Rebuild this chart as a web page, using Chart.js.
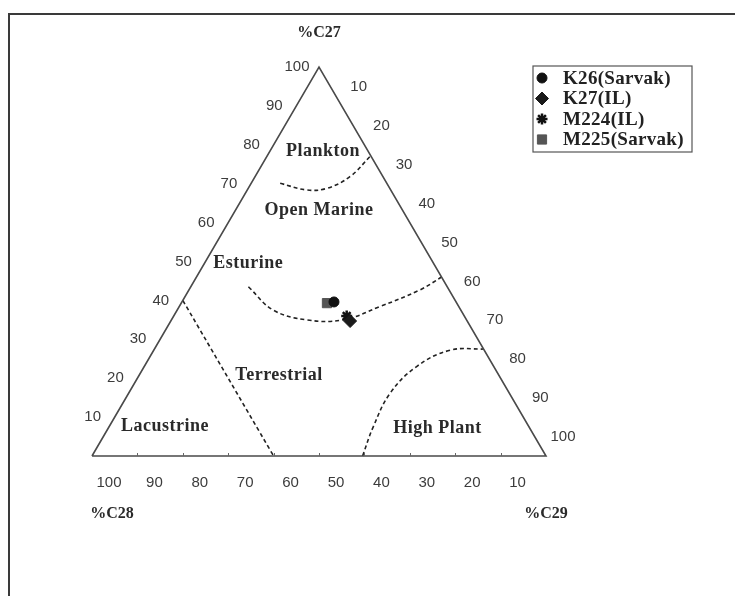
<!DOCTYPE html>
<html>
<head>
<meta charset="utf-8">
<script src="https://cdn.jsdelivr.net/npm/chart.js@4.4.1/dist/chart.umd.min.js"></script>
<style>
    html, body { margin: 0; padding: 0; background: #fff; }
</style>
</head>
<body>
<canvas id="ternaryChart" width="735" height="596"></canvas>
<script>
// Sterane distribution of the samples (%C27, %C28, %C29)
const sampleNames = ["K26(Sarvak)", "K27(IL)", "M224(IL)", "M225(Sarvak)"];
const c27Values = [39.6, 34.7, 36.0, 39.3];
const c28Values = [26.9, 25.8, 25.9, 28.6];
const c29Values = [33.5, 39.5, 38.1, 32.1];

// Environment boundaries, each point as [%C27, %C28, %C29]
const planktonLine = [[70.1, 23.5, 6.4], [68.4, 18.5, 13.1], [68.8, 13.9, 17.3], [71.8, 7.3, 20.9], [77.2, 0, 22.8]];
const estuarineLine = [[43.5, 43.8, 12.7], [37.5, 41.3, 21.2], [35.0, 35.2, 29.8], [35.0, 27.2, 37.8], [38.4, 17.4, 44.2], [42.7, 6.4, 50.9], [46.0, 0, 54.0]];
const lacustrineLine = [[40, 60, 0], [0, 60, 40]];
const highPlantLine = [[0, 40.4, 59.6], [7.5, 34.3, 58.2], [16.1, 26.3, 57.6], [23.0, 17.0, 60.0], [27.2, 7.5, 65.3], [27.5, 0, 72.5]];
const triangleCorners = [[0, 100, 0], [0, 0, 100], [100, 0, 0], [0, 100, 0]];

// Axis tick labels and environment names
const tickValues = [100, 90, 80, 70, 60, 50, 40, 30, 20, 10];
const axisTitles = ["%C27", "%C28", "%C29"];
const environmentNames = ["Plankton", "Open Marine", "Esturine", "Terrestrial", "Lacustrine", "High Plant"];

// where each environment name sits, in plot units
const environmentSpots = [[50.9, 78.4], [50, 63.1], [34.4, 49.6], [41.2, 20.8], [16.1, 7.5], [76.1, 7.1]];

// ternary -> plot units: base runs 0..100, height is %C27
function toXY(c27, c28, c29) {
    const sum = c27 + c28 + c29;
    return { x: (c29 + c27 / 2) / sum * 100, y: c27 / sum * 100 };
}

function linePoints(list) {
    return list.map(p => toXY(p[0], p[1], p[2]));
}

const markerStyles = [
    { pointStyle: "circle", radius: 5, color: "#111" },
    { pointStyle: "rectRot", radius: 6.5, color: "#1a1a1a" },
    { pointStyle: "star", radius: 5.5, color: "#111" },
    { pointStyle: "rect", radius: 6.5, color: "#555" }
];

const sampleSets = sampleNames.map((name, i) => ({
    label: name,
    data: [toXY(c27Values[i], c28Values[i], c29Values[i])],
    pointStyle: markerStyles[i].pointStyle,
    pointRadius: markerStyles[i].radius,
    backgroundColor: markerStyles[i].color,
    borderColor: markerStyles[i].color,
    borderWidth: markerStyles[i].pointStyle === "star" ? 2.5 : 1,
    clip: false,
    order: 0
}));

function boundarySet(list, dashed) {
    return {
        label: "",
        data: linePoints(list),
        showLine: true,
        tension: dashed ? 0.4 : 0,
        pointRadius: 0,
        borderColor: dashed ? "#222" : "#4a4a4a",
        borderWidth: 1.6,
        borderDash: dashed ? [4, 3] : [],
        clip: false,
        order: 5
    };
}

const boundarySets = [
    boundarySet(triangleCorners, false),
    boundarySet(planktonLine, true),
    boundarySet(estuarineLine, true),
    boundarySet(lacustrineLine, true),
    boundarySet(highPlantLine, true)
];

// text, frame and legend drawn around the triangle
const ternaryDecor = {
    id: "ternaryDecor",
    afterDatasetsDraw(chart) {
        const ctx = chart.ctx;
        const xs = chart.scales.x, ys = chart.scales.y;
        const px = p => ({ x: xs.getPixelForValue(p.x), y: ys.getPixelForValue(p.y) });

        ctx.save();
        // outer frame
        ctx.strokeStyle = "#3a3a3a";
        ctx.lineWidth = 2;
        ctx.beginPath();
        ctx.moveTo(9, 596);
        ctx.lineTo(9, 14);
        ctx.lineTo(735, 14);
        ctx.stroke();

        // small notches along the base
        ctx.strokeStyle = "#666";
        ctx.lineWidth = 1;
        ctx.beginPath();
        tickValues.slice(1).forEach(v => {
            const b = px(toXY(0, v, 100 - v));
            ctx.moveTo(Math.round(b.x) + 0.5, b.y - 3);
            ctx.lineTo(Math.round(b.x) + 0.5, b.y);
        });
        ctx.stroke();

        // tick labels
        ctx.fillStyle = "#3c3c3c";
        ctx.font = "15px 'Liberation Sans', Arial, sans-serif";
        ctx.textAlign = "center";
        ctx.textBaseline = "middle";
        tickValues.forEach(v => {
            const left = px(toXY(v, 100 - v, 0));
            ctx.fillText(String(v), left.x - 22, left.y);
            const right = px(toXY(100 - v, 0, v));
            ctx.fillText(String(v), right.x + 17, right.y - 19);
            const bottom = px(toXY(0, v, 100 - v));
            ctx.fillText(String(v), bottom.x + 17, bottom.y + 27);
        });

        // axis titles at the corners
        ctx.fillStyle = "#2a2a2a";
        ctx.font = "bold 16px 'Liberation Serif', 'Times New Roman', serif";
        const top = px(toXY(100, 0, 0));
        const bl = px(toXY(0, 100, 0));
        const br = px(toXY(0, 0, 100));
        ctx.fillText(axisTitles[0], top.x, top.y - 34);
        ctx.fillText(axisTitles[1], bl.x + 20, bl.y + 58);
        ctx.fillText(axisTitles[2], br.x, br.y + 58);

        // environment names
        ctx.font = "bold 18px 'Liberation Serif', 'Times New Roman', serif";
        ctx.letterSpacing = "0.5px";
        environmentNames.forEach((name, i) => {
            const p = px({ x: environmentSpots[i][0], y: environmentSpots[i][1] });
            ctx.fillText(name, p.x, p.y);
        });

        // legend box
        const boxLeft = 533, boxTop = 66, boxRight = 692, rowGap = 20.5;
        ctx.strokeStyle = "#555";
        ctx.lineWidth = 1.2;
        ctx.strokeRect(boxLeft, boxTop, boxRight - boxLeft, 86);
        ctx.textAlign = "left";
        ctx.font = "bold 19px 'Liberation Serif', 'Times New Roman', serif";
        ctx.letterSpacing = "0.3px";
        sampleSets.forEach((ds, i) => {
            const y = boxTop + 12 + i * rowGap;
            ctx.fillStyle = ds.backgroundColor;
            ctx.strokeStyle = ds.borderColor;
            ctx.lineWidth = ds.borderWidth;
            Chart.helpers.drawPoint(ctx, { pointStyle: ds.pointStyle, radius: ds.pointRadius, rotation: 0, borderWidth: ds.borderWidth }, boxLeft + 9, y);
            ctx.fillStyle = "#222";
            ctx.fillText(ds.label, boxLeft + 30, y + 1);
        });
        ctx.restore();
    }
};

new Chart(document.getElementById("ternaryChart"), {
    type: "scatter",
    data: { datasets: [...sampleSets, ...boundarySets] },
    options: {
        responsive: false,
        animation: false,
        layout: { padding: { left: 92, top: 67, right: 189, bottom: 140 } },
        scales: {
            x: { type: "linear", min: 0, max: 100, display: false },
            y: { type: "linear", min: 0, max: 100, display: false }
        },
        plugins: {
            legend: { display: false },
            tooltip: { enabled: false }
        }
    },
    plugins: [ternaryDecor]
});
</script>
</body>
</html>
